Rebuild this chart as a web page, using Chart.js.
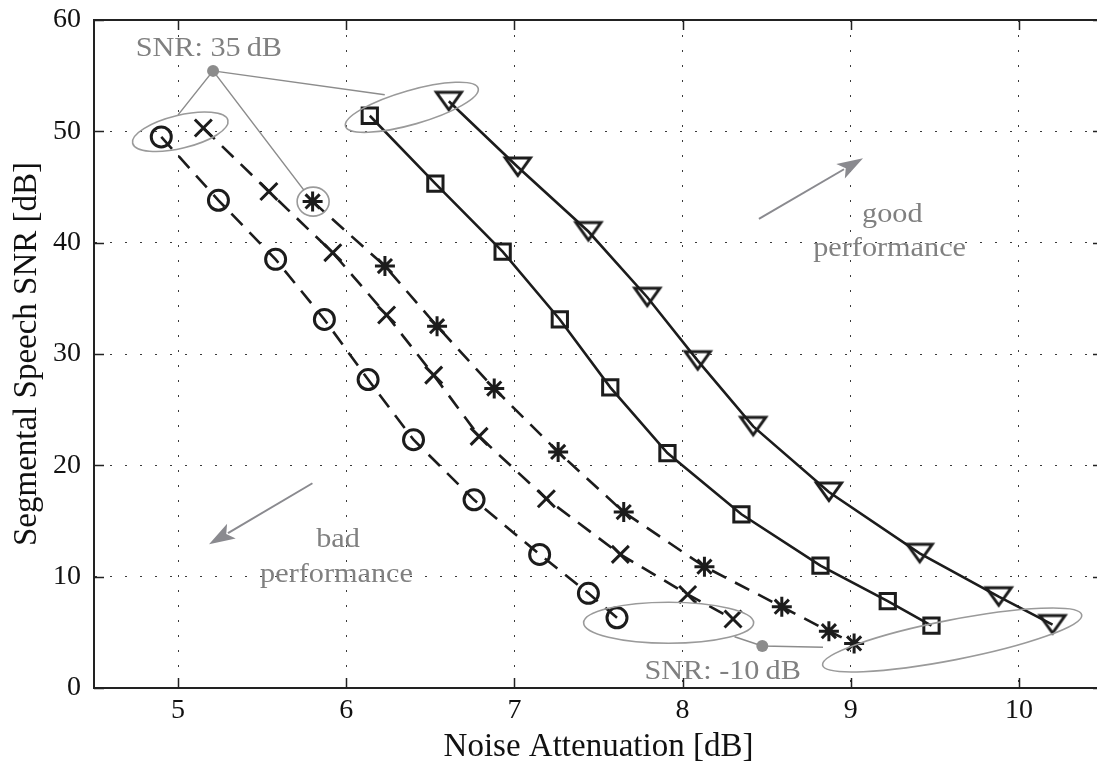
<!DOCTYPE html>
<html><head><meta charset="utf-8">
<style>
html,body{margin:0;padding:0;overflow:hidden;background:#fff;width:1097px;height:774px}
canvas{display:block}
</style>
<script src="https://cdn.jsdelivr.net/npm/chart.js@4/dist/chart.umd.min.js"></script>
</head><body>
<canvas id="c" width="1097" height="774"></canvas>
<script>
// ---- data ----
const xTicks = [5, 6, 7, 8, 9, 10];
const yTicks = [0, 10, 20, 30, 40, 50, 60];

const circleX = [4.90, 5.24, 5.58, 5.87, 6.13, 6.40, 6.76, 7.15, 7.44, 7.61];
const circleY = [49.5, 43.8, 38.5, 33.1, 27.7, 22.3, 16.9, 12.0, 8.5, 6.3];

const crossX = [5.15, 5.54, 5.92, 6.24, 6.52, 6.79, 7.19, 7.63, 8.03, 8.30];
const crossY = [50.3, 44.6, 39.1, 33.5, 28.1, 22.6, 17.0, 12.0, 8.4, 6.2];

const starX = [5.80, 6.23, 6.54, 6.88, 7.26, 7.65, 8.13, 8.59, 8.87, 9.02];
const starY = [43.7, 37.9, 32.5, 26.9, 21.2, 15.8, 10.9, 7.3, 5.1, 4.0];

const squareX = [6.14, 6.53, 6.93, 7.27, 7.57, 7.91, 8.35, 8.82, 9.22, 9.48];
const squareY = [51.4, 45.3, 39.2, 33.1, 27.0, 21.1, 15.6, 11.0, 7.8, 5.6];

const triX = [6.61, 7.02, 7.44, 7.79, 8.09, 8.42, 8.87, 9.41, 9.88, 10.20];
const triY = [52.7, 46.8, 41.0, 35.1, 29.4, 23.5, 17.6, 12.1, 8.2, 5.7];

// ---- styling ----
const FONT = "'Liberation Serif', 'Times New Roman', serif";
const INK = '#1c1c1c';
const GRAY = '#808080';
const ELL = '#9a9a9a';
const PLOT_RIGHT = 1103;   // the axes box runs slightly past the picture's right edge

function zip(xs, ys) { return xs.map((x, i) => ({x: x, y: ys[i]})); }

function triImage() {
  const c = document.createElement('canvas');
  c.width = 40; c.height = 40;
  const g = c.getContext('2d');
  g.strokeStyle = INK; g.lineWidth = 3; g.lineJoin = 'miter';
  g.beginPath();
  g.moveTo(20 - 12.5, 20 - 9);
  g.lineTo(20 + 12.5, 20 - 9);
  g.lineTo(20, 20 + 8.5);
  g.closePath();
  g.stroke();
  return c;
}

function ds(xs, ys, style, radius, dashed) {
  return {
    data: zip(xs, ys),
    showLine: true,
    borderColor: INK,
    borderWidth: 2.6,
    borderDash: dashed ? [16, 10] : [],
    pointStyle: style,
    pointRadius: radius,
    pointBorderWidth: 3,
    pointBorderColor: INK,
    pointBackgroundColor: 'rgba(0,0,0,0)',
    fill: false,
    tension: 0,
    clip: false
  };
}

// annotation geometry (data coordinates)
const notes = {
  dot35: [5.208, 55.43],
  lines35: [[5.0, 51.48], [5.747, 44.74], [6.229, 53.28]],
  ellipses: [
    {c: [5.013, 49.96], a: 49, b: 16.5, rot: -13.6},
    {c: [6.39, 52.16], a: 69, b: 17, rot: -16},
    {c: [5.803, 43.69], a: 16, b: 14.5, rot: 0},
    {c: [7.917, 5.86], a: 85, b: 20.5, rot: 0},
    {c: [9.603, 4.31], a: 132, b: 20, rot: -11}
  ],
  dot10: [8.474, 3.77],
  lines10: [[8.309, 4.61], [8.835, 3.66]],
  texts: [
    {t: 'SNR: 35\u2009dB', p: [5.183, 57.41]},
    {t: 'SNR: -10\u2009dB', p: [8.238, 1.44]},
    {t: 'good', p: [9.247, 42.5]},
    {t: 'performance', p: [9.231, 39.5]},
    {t: 'bad', p: [5.951, 13.3]},
    {t: 'performance', p: [5.942, 10.15]}
  ],
  arrows: [
    {from: [8.454, 42.14], to: [9.073, 47.59]},
    {from: [5.799, 18.39], to: [5.184, 12.91]}
  ]
};

const stretchPlugin = {
  id: 'stretch',
  afterLayout(chart) {
    const xs = chart.scales.x;
    xs.right = PLOT_RIGHT;
    xs.width = xs.right - xs.left;
    xs.configure();
    chart.chartArea.right = PLOT_RIGHT;
    chart.chartArea.width = PLOT_RIGHT - chart.chartArea.left;
    const ys = chart.scales.y;
    ys.configure();
  }
};

const framePlugin = {
  id: 'frame',
  afterDatasetsDraw(chart) {
    const ctx = chart.ctx;
    const xs = chart.scales.x, ys = chart.scales.y;
    const {left, right, top, bottom} = chart.chartArea;
    const P = (p) => [xs.getPixelForValue(p[0]), ys.getPixelForValue(p[1])];

    ctx.save();
    ctx.strokeStyle = '#222';
    ctx.lineWidth = 2;
    ctx.beginPath();
    ctx.moveTo(left, top); ctx.lineTo(right, top); ctx.lineTo(right, bottom);
    ctx.stroke();
    ctx.lineWidth = 1.5;
    ctx.beginPath();
    xTicks.forEach(v => {
      const px = Math.round(xs.getPixelForValue(v)) + 0.5;
      ctx.moveTo(px, bottom); ctx.lineTo(px, bottom - 10);
      ctx.moveTo(px, top); ctx.lineTo(px, top + 10);
    });
    yTicks.forEach(v => {
      const py = Math.round(ys.getPixelForValue(v)) + 0.5;
      ctx.moveTo(left, py); ctx.lineTo(left + 10, py);
      ctx.moveTo(right, py); ctx.lineTo(right - 10, py);
    });
    ctx.stroke();

    ctx.strokeStyle = ELL;
    ctx.lineWidth = 1.6;
    notes.ellipses.forEach(e => {
      const c = P(e.c);
      ctx.beginPath();
      ctx.ellipse(c[0], c[1], e.a, e.b, e.rot * Math.PI / 180, 0, Math.PI * 2);
      ctx.stroke();
    });
    ctx.strokeStyle = '#8c8c8c';
    ctx.lineWidth = 1.5;
    const d35 = P(notes.dot35), d10 = P(notes.dot10);
    ctx.beginPath();
    notes.lines35.forEach(q => { const e = P(q); ctx.moveTo(d35[0], d35[1]); ctx.lineTo(e[0], e[1]); });
    notes.lines10.forEach(q => { const e = P(q); ctx.moveTo(d10[0], d10[1]); ctx.lineTo(e[0], e[1]); });
    ctx.stroke();
    ctx.fillStyle = '#8c8c8c';
    [d35, d10].forEach(d => { ctx.beginPath(); ctx.arc(d[0], d[1], 6, 0, Math.PI * 2); ctx.fill(); });

    notes.arrows.forEach(a => {
      const s = P(a.from), t = P(a.to);
      const ang = Math.atan2(t[1] - s[1], t[0] - s[0]);
      const hl = 26, hw = 8.5;
      const bx = t[0] - Math.cos(ang) * hl, by = t[1] - Math.sin(ang) * hl;
      ctx.strokeStyle = '#8a8a8f'; ctx.fillStyle = '#8a8a8f';
      ctx.lineWidth = 2;
      ctx.beginPath(); ctx.moveTo(s[0], s[1]); ctx.lineTo(bx + Math.cos(ang) * 4, by + Math.sin(ang) * 4); ctx.stroke();
      ctx.beginPath();
      ctx.moveTo(t[0], t[1]);
      ctx.lineTo(bx - Math.sin(ang) * hw, by + Math.cos(ang) * hw);
      ctx.lineTo(bx + Math.cos(ang) * 6, by + Math.sin(ang) * 6);
      ctx.lineTo(bx + Math.sin(ang) * hw, by - Math.cos(ang) * hw);
      ctx.closePath(); ctx.fill();
    });

    ctx.fillStyle = GRAY;
    ctx.font = '28px ' + FONT;
    ctx.textAlign = 'center';
    ctx.textBaseline = 'middle';
    notes.texts.forEach(o => {
      const p = P(o.p);
      ctx.save();
      ctx.translate(p[0], p[1]);
      ctx.scale(1.08, 1);
      ctx.fillText(o.t, 0, 0);
      ctx.restore();
    });
    ctx.restore();
  }
};

new Chart(document.getElementById('c'), {
  type: 'scatter',
  data: {
    datasets: [
      ds(circleX, circleY, 'circle', 10, true),
      ds(crossX, crossY, 'crossRot', 12, true),
      ds(starX, starY, 'star', 10, true),
      ds(squareX, squareY, 'rect', 10.8, false),
      ds(triX, triY, triImage(), 12, false)
    ]
  },
  options: {
    responsive: false,
    devicePixelRatio: 1,
    animation: false,
    events: [],
    layout: {padding: {left: 0, top: 20, right: 0, bottom: 0}},
    plugins: {legend: {display: false}, tooltip: {enabled: false}},
    scales: {
      x: {
        type: 'linear', min: 4.5, max: 10.5,
        afterBuildTicks: s => { s.ticks = xTicks.map(v => ({value: v})); },
        afterFit: s => { s.height = 86; s.paddingLeft = 0; s.paddingRight = 0; },
        grid: {color: '#3a3a3a', lineWidth: 1, drawTicks: false, tickLength: 0},
        border: {display: true, color: '#222', width: 2, dash: [2, 13]},
        ticks: {color: '#111', padding: 9, maxRotation: 0, font: {family: FONT, size: 28, lineHeight: 1}, callback: v => String(v)},
        title: {display: true, text: 'Noise Attenuation [dB]', color: '#111', font: {family: FONT, size: 33, lineHeight: 1}, padding: {top: 0, bottom: 10}}
      },
      y: {
        type: 'linear', min: 0, max: 60,
        afterBuildTicks: s => { s.ticks = yTicks.map(v => ({value: v})); },
        afterFit: s => { s.width = 94; s.paddingTop = 0; s.paddingBottom = 0; },
        grid: {color: '#3a3a3a', lineWidth: 1, drawTicks: false, tickLength: 0},
        border: {display: true, color: '#222', width: 2, dash: [2, 13]},
        ticks: {color: '#111', padding: 13, font: {family: FONT, size: 28, lineHeight: 1}, callback: v => String(v)},
        title: {display: true, text: 'Segmental Speech SNR [dB]', color: '#111', font: {family: FONT, size: 33, lineHeight: 1}, padding: {top: 11, bottom: 0}}
      }
    }
  },
  plugins: [stretchPlugin, framePlugin]
});
</script>
</body></html>
